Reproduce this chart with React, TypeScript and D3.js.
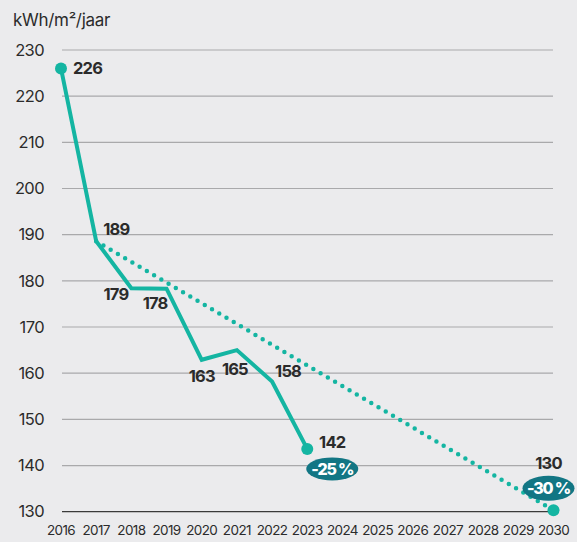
import React from "react";
import * as d3 from "d3";

const tickYears = [2016, 2017, 2018, 2019, 2020, 2021, 2022, 2023, 2024, 2025, 2026, 2027, 2028, 2029, 2030];
const yTicks = [130, 140, 150, 160, 170, 180, 190, 200, 210, 220, 230];
const actualYears = [2016, 2017, 2018, 2019, 2020, 2021, 2022, 2023];
const actualValues = [226, 188.6, 178.4, 178.3, 162.9, 165, 158.2, 143.6];
const actualLabels = ["226", "189", "179", "178", "163", "165", "158", "142"];
const targetYears = [2017, 2030];
const targetValues = [188.6, 130.3];
const targetLabel = "130";
const badgeLabels = ["-25 %", "-30 %"];
const unitLabel = "kWh/m²/jaar";

// label placement offsets (px) relative to the point
const labelOffsets: [number, number, string][] = [
  [12, 0, "start"],
  [7, -12, "start"],
  [-3, 6, "end"],
  [1, 14, "end"],
  [0, 16, "middle"],
  [-2, 19, "middle"],
  [16, -10, "middle"],
  [25, -7, "middle"],
];

const W = 577, H = 542;
const TEAL = "#14b5a2";
const DARK_TEAL = "#127684";
const TEXT = "#2b2b2b";
const FONT = "Inter, 'Open Sans', sans-serif";

export default function App() {
  const x = d3.scaleLinear().domain([2016, 2030]).range([61, 553.5]);
  const y = d3.scaleLinear().domain([130, 230]).range([511.7, 50]);
  const line = d3.line<number>().x((_, i) => x(actualYears[i])).y((v) => y(v));
  const tline = d3.line<number>().x((_, i) => x(targetYears[i])).y((v) => y(v));
  const lastI = actualValues.length - 1;
  const px = x(actualYears[lastI]), py = y(actualValues[lastI]);
  const tx = x(targetYears[1]), ty = y(targetValues[1]);
  return (
    <svg width={W} height={H} style={{ position: "absolute", left: 0, top: 0, fontFamily: FONT }}>
      <rect width={W} height={H} fill="#ebebed" />
      <text x={13} y={26} fontSize={17} fill={TEXT} letterSpacing={-0.3}>{unitLabel}</text>
      {yTicks.map((t) => (
        <g key={t}>
          <line x1={62} x2={553} y1={y(t)} y2={y(t)} stroke={t === 130 ? "#3a3a3a" : "#a9a9ab"} strokeWidth={t === 130 ? 1.3 : 1.2} />
          <text x={44} y={y(t)} dy="0.35em" textAnchor="end" fontSize={16.5} fill={TEXT} letterSpacing={-0.6}>{t}</text>
        </g>
      ))}
      {tickYears.map((yr) => (
        <text key={yr} x={x(yr)} y={535} textAnchor="middle" fontSize={13.5} fill={TEXT} letterSpacing={-0.6}>{yr}</text>
      ))}
      <path d={tline(targetValues) || ""} fill="none" stroke={TEAL} strokeWidth={4.5} strokeLinecap="round" strokeDasharray="0 8.4" />
      <path d={line(actualValues) || ""} fill="none" stroke={TEAL} strokeWidth={4} strokeLinejoin="miter" />
      <circle cx={x(actualYears[0])} cy={y(actualValues[0])} r={6} fill={TEAL} />
      <circle cx={px} cy={py} r={6} fill={TEAL} />
      <circle cx={tx} cy={ty} r={6} fill={TEAL} />
      {actualLabels.map((l, i) => {
        const [dx, dy, anchor] = labelOffsets[i];
        return (
          <text key={l + i} x={x(actualYears[i]) + dx} y={y(actualValues[i]) + dy} dy="0.36em" textAnchor={anchor as any}
            fontSize={16.5} fontWeight={700} fill={TEXT} letterSpacing={-0.8}>{l}</text>
        );
      })}
      <text x={tx - 5} y={ty - 47} dy="0.36em" textAnchor="middle" fontSize={16.5} fontWeight={700} fill={TEXT} letterSpacing={-0.8}>{targetLabel}</text>
      <g transform={`translate(${px + 25},${py + 20})`}>
        <ellipse rx={26} ry={11.5} fill={DARK_TEAL} />
        <text textAnchor="middle" dy="0.37em" fontSize={16} fontWeight={800} fill="#fff" letterSpacing={-1.2}>{badgeLabels[0]}</text>
      </g>
      <g transform={`translate(${tx - 5},${ty - 22})`}>
        <ellipse rx={26} ry={12.5} fill={DARK_TEAL} />
        <text textAnchor="middle" dy="0.37em" fontSize={16} fontWeight={800} fill="#fff" letterSpacing={-1.2}>{badgeLabels[1]}</text>
      </g>
    </svg>
  );
}
